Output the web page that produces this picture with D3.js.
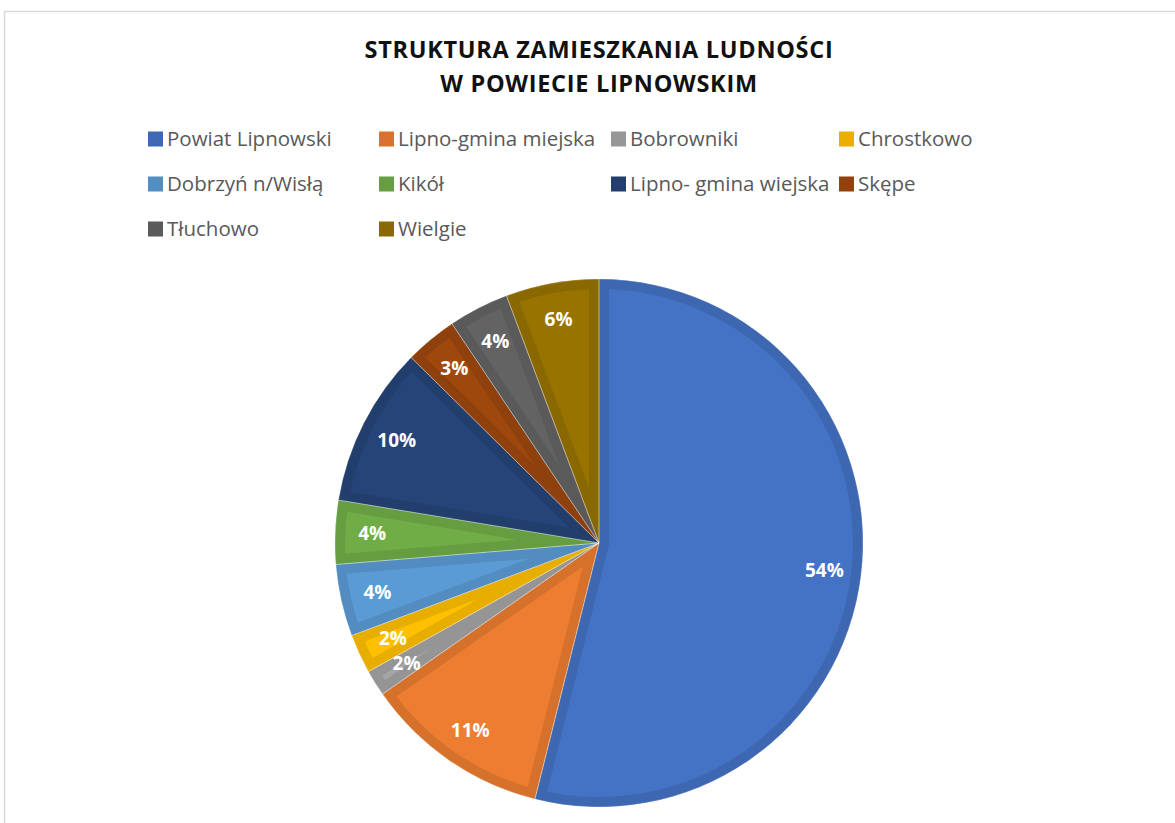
<!DOCTYPE html>
<html>
<head>
<meta charset="utf-8">
<script src="https://cdn.jsdelivr.net/npm/d3@7"></script>
<style>
  body { margin: 0; background: #fff; }
  svg { display: block; font-family: "Open Sans", "Liberation Sans", sans-serif; }
</style>
</head>
<body>
<svg id="chart"></svg>
<script>
// data (percent shares)
const categories = ["Powiat Lipnowski", "Lipno-gmina miejska", "Bobrowniki", "Chrostkowo",
  "Dobrzyń n/Wisłą", "Kikół", "Lipno- gmina wiejska", "Skępe", "Tłuchowo", "Wielgie"];
const shares = [53.9, 11.4, 1.6, 2.4, 4.4, 3.9, 9.8, 3.2, 3.7, 5.7];
const colors = ["#4472C4", "#ED7D31", "#A5A5A5", "#FFC000", "#5B9BD5",
  "#70AD47", "#264478", "#9E480E", "#636363", "#997300"];
const titleLines = ["STRUKTURA ZAMIESZKANIA LUDNOŚCI", "W POWIECIE LIPNOWSKIM"];

const width = 1175, height = 823;
const cx = 599, cy = 543, radius = 264;

const svg = d3.select("#chart").attr("width", width).attr("height", height);

// chart frame
svg.append("rect")
  .attr("x", 4.5).attr("y", 11.5)
  .attr("width", 1300).attr("height", 1000)
  .attr("fill", "none").attr("stroke", "#d9d9d9").attr("stroke-width", 1.5);

// title
svg.append("g").selectAll("text")
  .data(titleLines)
  .join("text")
    .attr("x", 599)
    .attr("y", (d, i) => 58 + i * 34)
    .attr("text-anchor", "middle")
    .attr("font-size", 23.5)
    .attr("font-weight", "bold")
    .attr("letter-spacing", 0.7)
    .attr("fill", "#111111")
    .text(d => d);

// legend
const colX = [148, 379, 611, 839];
const legend = svg.append("g").selectAll("g")
  .data(categories)
  .join("g")
    .attr("transform", (d, i) => `translate(${colX[i % 4]},${139 + Math.floor(i / 4) * 45})`);

legend.append("rect")
  .attr("x", 0).attr("y", -7.5)
  .attr("width", 15).attr("height", 15)
  .attr("fill", (d, i) => d3.color(colors[i]).darker(0.25));

legend.append("text")
  .attr("x", 19).attr("y", 7)
  .attr("font-size", 20.5)
  .attr("fill", "#595959")
  .text(d => d);

// pie
const pie = d3.pie().sort(null).value(d => d);
const arcs = pie(shares);
const arc = d3.arc().innerRadius(0).outerRadius(radius);
const labelArc = d3.arc().innerRadius(radius * 0.86).outerRadius(radius * 0.86);

const chart = svg.append("g").attr("transform", `translate(${cx},${cy})`);
const defs = svg.append("defs");

defs.selectAll("clipPath")
  .data(arcs)
  .join("clipPath")
    .attr("id", (d, i) => "slice" + i)
  .append("path")
    .attr("d", arc);

chart.selectAll("path.slice")
  .data(arcs)
  .join("path")
    .attr("class", "slice")
    .attr("d", arc)
    .attr("clip-path", (d, i) => `url(#slice${i})`)
    .attr("fill", (d, i) => colors[i])
    .attr("stroke", (d, i) => d3.color(colors[i]).darker(0.28))
    .attr("stroke-width", 20)
    .attr("stroke-linejoin", "round");

// thin separators
chart.selectAll("path.sep")
  .data(arcs)
  .join("path")
    .attr("class", "sep")
    .attr("d", arc)
    .attr("fill", "none")
    .attr("stroke", "#ffffff")
    .attr("stroke-opacity", 0.35)
    .attr("stroke-width", 0.8);

chart.selectAll("text")
  .data(arcs)
  .join("text")
    .attr("transform", d => `translate(${labelArc.centroid(d)})`)
    .attr("text-anchor", "middle")
    .attr("dy", "0.35em")
    .attr("font-size", 19)
    .attr("font-weight", "bold")
    .attr("fill", "#ffffff")
    .text(d => Math.round(d.data) + "%");
</script>
</body>
</html>
